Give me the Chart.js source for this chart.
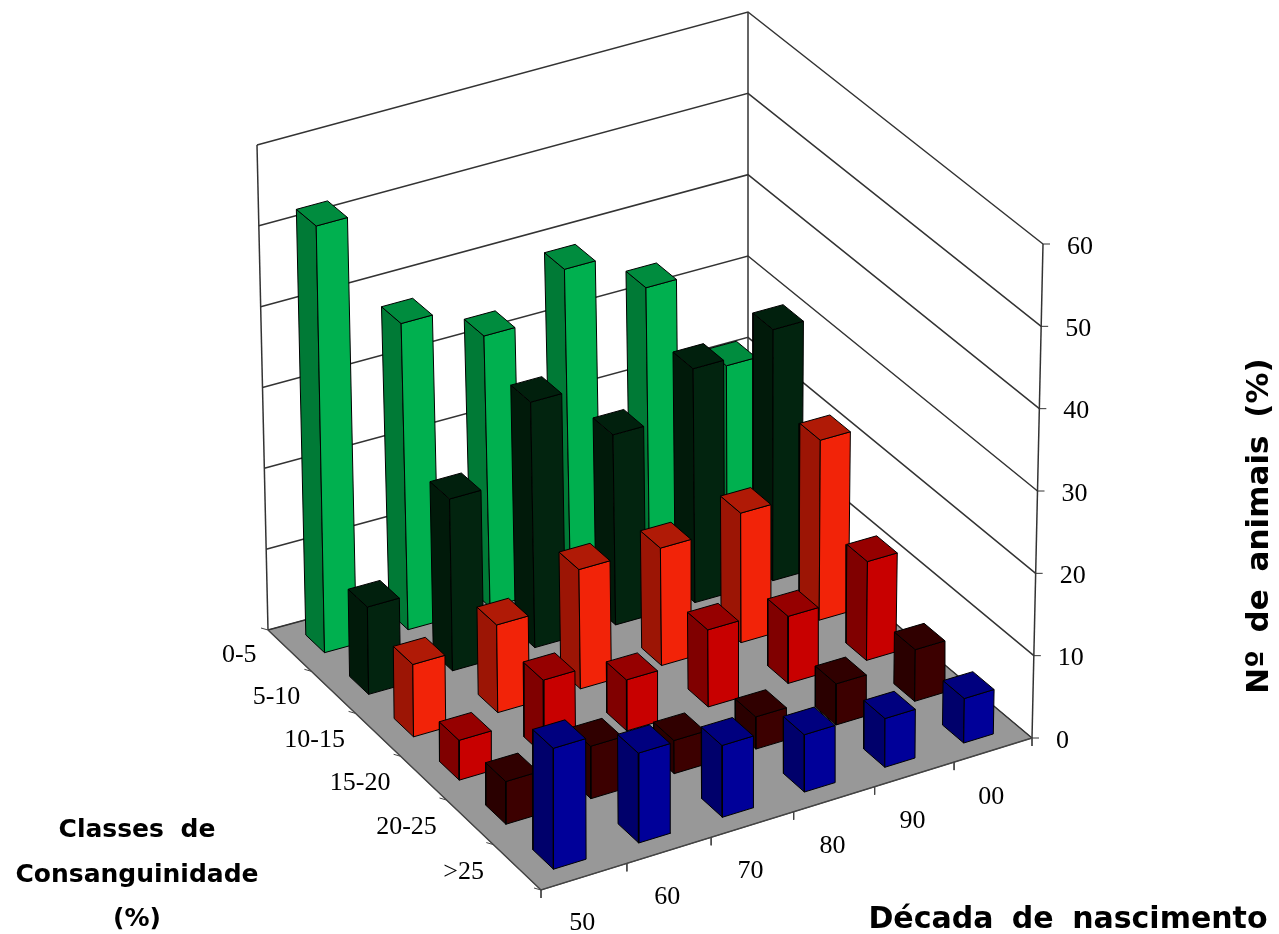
<!DOCTYPE html>
<html lang="en">
<head>
    <meta charset="UTF-8">
    <title>Classes de Consanguinidade por Década de nascimento</title>
    <style>
        body { margin: 0; background: #FFFFFF; }
        #chart-container { width: 1279px; height: 934px; }
    </style>
    <script src="https://cdn.jsdelivr.net/npm/chart.js"></script>
</head>
<body>
    <div id="chart-container"><canvas id="barChart" width="1279" height="934"></canvas></div>

    <script>
        // Axis labels
        const decades = ["50", "60", "70", "80", "90", "00"];
        const classes = ["0-5", "5-10", "10-15", "15-20", "20-25", ">25"];
        const valueTicks = [0, 10, 20, 30, 40, 50, 60];

        // Nº de animais (%) per class, one value per decade
        const class0to5 = [52.6, 37.8, 33.5, 39, 34, 21.7];
        const class5to10 = [10.7, 21.1, 30.2, 23.4, 28.8, 30.9];
        const class10to15 = [8.8, 10.7, 14.6, 14.4, 15.9, 22.1];
        const class15to20 = [4.8, 9.1, 6.2, 9.4, 8.2, 12.1];
        const class20to25 = [5.1, 6.3, 4, 3.9, 5, 6.3];
        const classOver25 = [14.3, 10.7, 8.6, 6.9, 5.9, 5.4];
        const rows = [class0to5, class5to10, class10to15, class15to20, class20to25, classOver25];

        // Face colours for each class: front, side, top
        const rowColors = [
            ["#00B04F", "#007A36", "#008C3E"],
            ["#02240F", "#011A0A", "#01200D"],
            ["#F22308", "#9C1505", "#B01A06"],
            ["#C80000", "#800000", "#960000"],
            ["#3C0000", "#2A0000", "#300000"],
            ["#000099", "#00006B", "#00007F"]
        ];

        // Corners of the 3D box on the page, floor and value 60 level
        const floorQuad = [[268, 630], [748, 500], [1032, 738], [541, 890]];
        const topQuad = [[257, 145], [748, 12], [1043, 244], [541, 380]];
        const maxValue = 60;
        const gridColor = "#333333";

        // Maps the unit square onto a quad (perspective)
        function quadMap(q) {
            const [[x0, y0], [x1, y1], [x2, y2], [x3, y3]] = q;
            const dx1 = x1 - x2, dx2 = x3 - x2, sx = x0 - x1 + x2 - x3;
            const dy1 = y1 - y2, dy2 = y3 - y2, sy = y0 - y1 + y2 - y3;
            const den = dx1 * dy2 - dx2 * dy1;
            const g = (sx * dy2 - dx2 * sy) / den;
            const h = (dx1 * sy - sx * dy1) / den;
            return (u, v) => {
                const w = g * u + h * v + 1;
                return [
                    ((x1 - x0 + g * x1) * u + (x3 - x0 + h * x3) * v + x0) / w,
                    ((y1 - y0 + g * y1) * u + (y3 - y0 + h * y3) * v + y0) / w
                ];
            };
        }
        const floorMap = quadMap(floorQuad);
        const topMap = quadMap(topQuad);

        // decade position, class position (0 to 6), value -> page point
        function project(d, c, value) {
            const a = floorMap(d / 6, c / 6);
            const b = topMap(d / 6, c / 6);
            const t = value / maxValue;
            return { x: a[0] + (b[0] - a[0]) * t, y: a[1] + (b[1] - a[1]) * t };
        }

        const datasets = [];

        function addShape(points, fillColor, lineColor, lineWidth) {
            datasets.push({
                data: points,
                showLine: true,
                fill: fillColor ? "shape" : false,
                backgroundColor: fillColor || "transparent",
                borderColor: lineColor,
                borderWidth: lineWidth,
                pointRadius: 0,
                tension: 0
            });
        }

        // Floor
        addShape([project(0, 0, 0), project(6, 0, 0), project(6, 6, 0), project(0, 6, 0), project(0, 0, 0)], "#989898", "#555555", 1);

        // Walls: grid lines and uprights
        valueTicks.forEach(tick => {
            addShape([project(0, 0, tick), project(6, 0, tick), project(6, 6, tick)], null, gridColor, 1.5);
            const end = project(6, 6, tick);
            addShape([end, { x: end.x + 7, y: end.y }], null, gridColor, 1);
        });
        addShape([project(0, 0, 0), project(0, 0, maxValue)], null, gridColor, 1.5);
        addShape([project(6, 0, 0), project(6, 0, maxValue)], null, gridColor, 1.5);
        addShape([project(6, 6, 0), project(6, 6, maxValue)], null, gridColor, 1.5);

        // Floor edge and tick marks
        addShape([project(0, 0, 0), project(0, 6, 0), project(6, 6, 0)], null, "#444444", 1.5);
        for (let i = 0; i <= 6; i++) {
            const a = project(i, 6, 0);
            addShape([a, { x: a.x, y: a.y + 8 }], null, "#444444", 1);
            const b = project(0, i, 0);
            addShape([b, { x: b.x - 7, y: b.y - 2 }], null, "#444444", 1);
        }

        // Bars, back row first so the front rows paint over them
        const decadeMargin = 0.3, decadeWidth = 0.38;
        const classMargin = 0.29, classWidth = 0.43;
        rows.forEach((row, c) => {
            for (let d = decades.length - 1; d >= 0; d--) {
                const value = row[d];
                const d0 = d + decadeMargin, d1 = d0 + decadeWidth;
                const c0 = c + classMargin, c1 = c0 + classWidth;
                const [front, side, top] = rowColors[c];
                addShape([project(d0, c0, 0), project(d0, c1, 0), project(d0, c1, value), project(d0, c0, value), project(d0, c0, 0)], side, "#000000", 1);
                addShape([project(d0, c1, 0), project(d1, c1, 0), project(d1, c1, value), project(d0, c1, value), project(d0, c1, 0)], front, "#000000", 1);
                addShape([project(d0, c0, value), project(d1, c0, value), project(d1, c1, value), project(d0, c1, value), project(d0, c0, value)], top, "#000000", 1);
            }
        });

        // Chart.js paints the first dataset last
        datasets.reverse();

        const tickFont = '26px "Liberation Serif"';

        const labelPlugin = {
            id: "boxLabels",
            afterDraw(chart) {
                const ctx = chart.ctx;
                const x = chart.scales.x, y = chart.scales.y;
                ctx.save();
                ctx.fillStyle = "#000000";
                ctx.textBaseline = "middle";
                ctx.font = tickFont;

                ctx.textAlign = "center";
                decades.forEach((label, i) => {
                    const p = project(i + 0.5, 6, 0);
                    ctx.fillText(label, x.getPixelForValue(p.x) - 2, y.getPixelForValue(p.y) + 47);
                });
                ctx.textAlign = "right";
                classes.forEach((label, i) => {
                    const p = project(0, i + 0.5, 0);
                    ctx.fillText(label, x.getPixelForValue(p.x) - 33, y.getPixelForValue(p.y) + 5);
                });
                ctx.textAlign = "left";
                valueTicks.forEach(tick => {
                    const p = project(6, 6, tick);
                    ctx.fillText(String(tick), x.getPixelForValue(p.x) + 24, y.getPixelForValue(p.y) + 3);
                });

                // Axis titles
                ctx.textBaseline = "alphabetic";
                ctx.textAlign = "center";
                ctx.wordSpacing = "8px";
                ctx.font = 'bold 25px "DejaVu Sans"';
                ctx.fillText("Classes de", 137, 837);
                ctx.fillText("Consanguinidade", 137, 882);
                ctx.fillText("(%)", 137, 926);
                ctx.font = 'bold 30px "DejaVu Sans"';
                ctx.fillText("Década de nascimento", 1068, 928);

                ctx.font = 'bold 31px "DejaVu Sans"';
                ctx.wordSpacing = "7px";
                ctx.translate(1268, 526);
                ctx.rotate(-Math.PI / 2);
                ctx.fillText("Nº de animais (%)", 0, 0);
                ctx.restore();
            }
        };

        new Chart(document.getElementById("barChart").getContext("2d"), {
            type: "scatter",
            data: { datasets: datasets },
            options: {
                responsive: false,
                animation: false,
                layout: { padding: 0 },
                scales: {
                    x: { type: "linear", min: 0, max: 1279, display: false },
                    y: { type: "linear", min: 0, max: 934, reverse: true, display: false }
                },
                plugins: {
                    legend: { display: false },
                    tooltip: { enabled: false }
                }
            },
            plugins: [labelPlugin]
        });
    </script>
</body>
</html>
